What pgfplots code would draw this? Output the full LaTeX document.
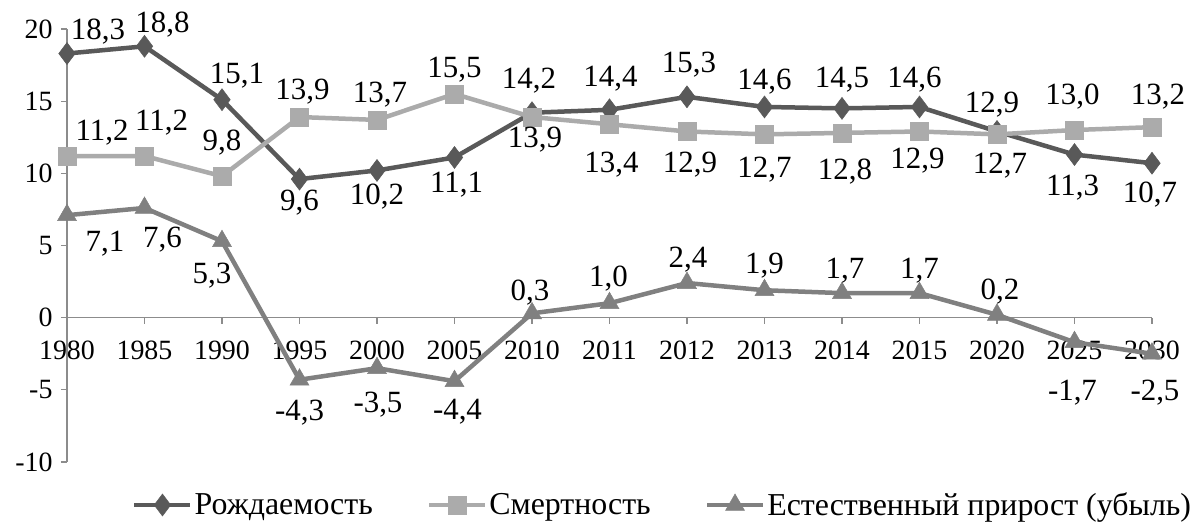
\documentclass[border=0pt]{standalone}
\usepackage{fontspec}
\setmainfont{Liberation Serif}
\usepackage{pgfplots}
\usepackage{pgfplotstable}
\pgfplotsset{compat=1.18}
\usetikzlibrary{calc}

\definecolor{cDark}{HTML}{595959}
\definecolor{cLight}{HTML}{ABABAB}
\definecolor{cMid}{HTML}{808080}
\definecolor{cAxis}{HTML}{8C8C8C}

% x = category index (1980 ... 2030), y = value, dx/dy = label offset in bp
\pgfplotstableread{
x  y     dx   dy
0  18.3  31   22
1  18.8  18   22
2  15.1  15   24
3  9.6   0   -24
4  10.2  0   -26
5  11.1  2   -27
6  14.2 -3    32
7  14.4  1    31
8  15.3  2    32
9  14.6  0    25
10 14.5  0    29
11 14.6 -5    27
12 12.9 -5    27
13 11.3 -2   -33
14 10.7 -2   -31
}\birth

\pgfplotstableread{
x  y     dx   dy
0  11.2  35   23
1  11.2  17   33
2  9.8   0    34
3  13.9  3    25
4  13.7  3    25
5  15.5  0    24
6  13.9  3   -23
7  13.4  2   -40
8  12.9  3   -33
9  12.7  0   -35
10 12.8  3   -39
11 12.9 -2   -29
12 12.7  3   -31
13 13.0 -2    33
14 13.2  6    30
}\death

\pgfplotstableread{
x  y     dx   dy
0  7.1   38  -28
1  7.6   18  -32
2  5.3  -10  -34
3  -4.3  0   -33
4  -3.5  1   -36
5  -4.4  3   -31
6  0.3  -2    21
7  1.0  -1    25
8  2.4   1    23
9  1.9   0    25
10 1.7   3    22
11 1.7   0    22
12 0.2   3    23
13 -1.7 -2   -50
14 -2.5  3   -39
}\growth

\begin{document}
\begin{tikzpicture}
\begin{axis}[
    name=main,
    scale only axis,
    width=1085bp, height=433bp,
    xmin=0, xmax=14, ymin=-10, ymax=20,
    axis x line*=middle,
    axis y line*=left,
    hide obscured x ticks=false,
    hide obscured y ticks=false,
    axis line style={cAxis, line width=1.3bp},
    xtick={0,...,14},
    xticklabels={1980,1985,1990,1995,2000,2005,2010,2011,2012,2013,2014,2015,2020,2025,2030},
    ytick={-10,-5,...,20},
    tick align=outside,
    major tick length=6bp,
    tick style={cAxis, line width=1.3bp},
    /pgf/number format/assume math mode=true,
    tick label style={font=\fontsize{28}{33}\selectfont},
    xticklabel style={yshift=-14bp},
    yticklabel style={xshift=-5bp},
    clip=false,
    every axis plot/.append style={line width=4.5bp},
    nodes near coords={\pgfmathprintnumber[fixed,fixed zerofill,precision=1,use comma,assume math mode=true]{\pgfplotspointmeta}},
    visualization depends on={\thisrow{dx}\as\dx},
    visualization depends on={\thisrow{dy}\as\dy},
    every node near coord/.append style={font=\fontsize{31}{37}\selectfont, text=black, anchor=center, xshift=\dx bp, yshift=\dy bp},
    legend columns=3,
    legend cell align=left,
    legend style={draw=none, fill=none, at={(axis description cs:0.0599,-0.0993)}, anchor=west,
        font=\fontsize{32}{38}\selectfont, inner sep=0pt,
        /tikz/every even column/.append style={column sep=52bp}},
    legend image code/.code={\draw[mark repeat=2,mark phase=2,#1] plot coordinates {(0bp,0bp) (28bp,0bp) (56bp,0bp)};},
]
\addplot[cDark, mark=diamond*, mark size=11bp, mark options={solid, fill=cDark, line width=0.5bp}] table[x=x,y=y] {\birth};
\addlegendentry{Рождаемость}
\addplot[cLight, mark=square*, mark size=9bp, mark options={solid, fill=cLight, line width=0.5bp}] table[x=x,y=y] {\death};
\addlegendentry{Смертность}
\addplot[cMid, mark=triangle*, mark size=11bp, mark options={solid, fill=cMid, line width=0.5bp}] table[x=x,y=y] {\growth};
\addlegendentry{Естественный прирост (убыль)}
\end{axis}
\pgfresetboundingbox
\useasboundingbox ($(main.south west)+(-67bp,-61bp)$) rectangle ($(main.south west)+(1127bp,462bp)$);
\end{tikzpicture}
\end{document}
